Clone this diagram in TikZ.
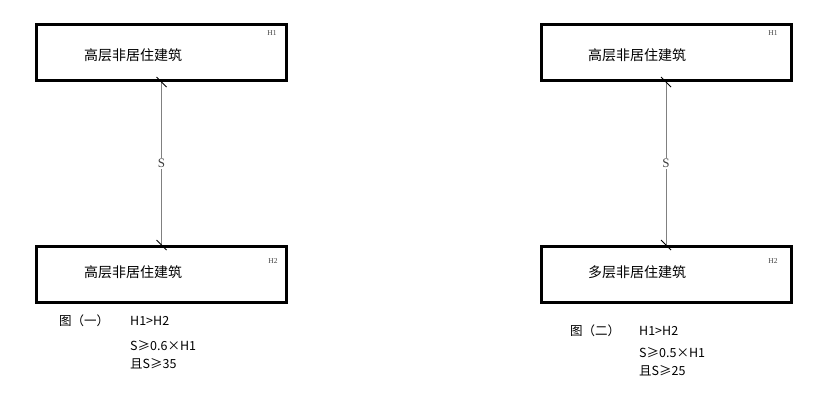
\documentclass[tikz,border=0pt]{standalone}
\usepackage{fontspec}
\setmainfont{Liberation Serif}
\newfontfamily\cjk{Noto Sans CJK SC}
\usepackage{tikz}

\tikzset{
    bldg/.style={draw, line width=3pt, minimum width=250pt, minimum height=56pt, inner sep=0pt},
    spacing/.style={draw=gray, line width=0.6pt},
    tick/.style={line width=1pt},
    hlabel/.style={font=\fontsize{7.5}{7.5}\selectfont, text=black!75},
    bldgname/.style={font=\cjk\fontsize{14}{14}\selectfont},
    note/.style={font=\cjk\fontsize{12.5}{13}\selectfont, anchor=west, inner sep=0pt}
}

\begin{document}
\begin{tikzpicture}[x=1pt, y=-1pt]
    \useasboundingbox (0, 0) rectangle (819, 413);

    % left panel
    \node[bldg] (H1a) at (161.5, 52.5) {};
    \node[bldg] (H2a) at (161.5, 274.5) {};
    \node[bldgname] (H1aname) at (133, 55) {高层非居住建筑};
    \node[bldgname] (H2aname) at (133, 272) {高层非居住建筑};
    \node[hlabel] (H1atag) at (272, 33) {H1};
    \node[hlabel] (H2atag) at (273, 261) {H2};

    \draw[spacing] (H1a.south) -- (H2a.north) node[midway, fill=white, inner sep=1pt, text=black!75, font=\fontsize{13}{13}\selectfont] (Sa) {S};
    \draw[tick] ([shift={(-5,-5)}]H1a.south) -- ([shift={(5,5)}]H1a.south);
    \draw[tick] ([shift={(-5,-5)}]H2a.north) -- ([shift={(5,5)}]H2a.north);

    \node[note] (figa) at (59, 321) {图（一）};
    \node[note] (cmpa) at (130, 321) {H1>H2};
    \node[note] (rulea) at (130, 346) {S≥0.6×H1};
    \node[note] (mina) at (130, 364) {且S≥35};

    % right panel
    \node[bldg] (H1b) at (666, 52.5) {};
    \node[bldg] (H2b) at (666, 274.5) {};
    \node[bldgname] (H1bname) at (637, 55) {高层非居住建筑};
    \node[bldgname] (H2bname) at (637, 272) {多层非居住建筑};
    \node[hlabel] (H1btag) at (773, 33) {H1};
    \node[hlabel] (H2btag) at (773, 261) {H2};

    \draw[spacing] (H1b.south) -- (H2b.north) node[midway, fill=white, inner sep=1pt, text=black!75, font=\fontsize{13}{13}\selectfont] (Sb) {S};
    \draw[tick] ([shift={(-5,-5)}]H1b.south) -- ([shift={(5,5)}]H1b.south);
    \draw[tick] ([shift={(-5,-5)}]H2b.north) -- ([shift={(5,5)}]H2b.north);

    \node[note] (figb) at (570, 331) {图（二）};
    \node[note] (cmpb) at (639, 331) {H1>H2};
    \node[note] (ruleb) at (639, 353) {S≥0.5×H1};
    \node[note] (minb) at (639, 371) {且S≥25};
\end{tikzpicture}
\end{document}
